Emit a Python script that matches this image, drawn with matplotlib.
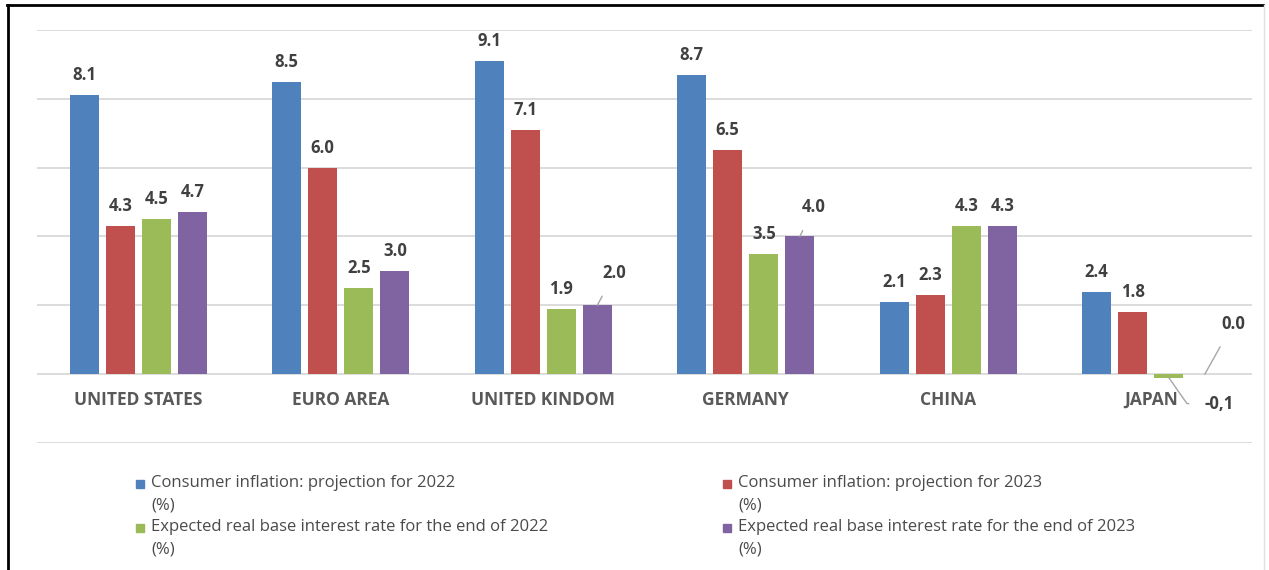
import matplotlib.pyplot as plt
from matplotlib.patches import Rectangle
from matplotlib.lines import Line2D
import numpy as np

#------------------------------#
# DATA
#------------------------------#

countries = ['UNITED STATES', 'EURO AREA', 'UNITED KINDOM', 'GERMANY', 'CHINA', 'JAPAN']
infl_2022 = [8.1, 8.5, 9.1, 8.7, 2.1, 2.4]
infl_2023 = [4.3, 6.0, 7.1, 6.5, 2.3, 1.8]
rate_2022 = [4.5, 2.5, 1.9, 3.5, 4.3, -0.1]
rate_2023 = [4.7, 3.0, 2.0, 4.0, 4.3, 0.0]

series_names = ['Consumer inflation: projection for 2022\n(%)',
                'Consumer inflation: projection for 2023\n(%)',
                'Expected real base interest rate for the end of 2022\n(%)',
                'Expected real base interest rate for the end of 2023\n(%)']
colors = ['#4F81BD', '#C0504D', '#9BBB59', '#8064A2']

#------------------------------#
# PLOT
#------------------------------#

plt.rcParams['font.family'] = ['Open Sans', 'DejaVu Sans']
TXT = '#404040'

fig = plt.figure(figsize=(12.69, 5.70), dpi=100)
ax = fig.add_axes([37/1269, 1-443/570, 1215/1269, 413/570])

x = np.arange(len(countries))
offsets = [-0.267, -0.089, 0.089, 0.267]
width = 0.143
all_series = [infl_2022, infl_2023, rate_2022, rate_2023]

for j, vals in enumerate(all_series):
    ax.bar(x + offsets[j], vals, width=width, color=colors[j], zorder=3)

# labels that are pushed aside with a leader line: (country, series) -> pixel offset
moved = {(2, 3): (17, 32), (3, 3): (14, 29), (5, 3): (28, 50), (5, 2): (50, -26)}

for j, vals in enumerate(all_series):
    for i, v in enumerate(vals):
        txt = '{:.1f}'.format(v)
        if v < 0:
            txt = txt.replace('.', ',')
        xb = x[i] + offsets[j]
        if (i, j) in moved:
            dx, dy = moved[(i, j)]
            cs = 'angle,angleA=0,angleB=-55,rad=0' if v < 0 else 'arc3'
            ax.annotate(txt, (xb, v), xytext=(dx, dy), textcoords='offset pixels',
                        ha='center', va='center', fontsize=12, fontweight='bold',
                        color=TXT, zorder=4,
                        arrowprops=dict(arrowstyle='-', color='#a6a6a6', lw=1,
                                        shrinkA=9, shrinkB=0, connectionstyle=cs))
        else:
            ax.annotate(txt, (xb, max(v, 0)), xytext=(0, 11), textcoords='offset pixels',
                        ha='center', va='bottom', fontsize=12, fontweight='bold',
                        color=TXT, zorder=4)

for i, c in enumerate(countries):
    ax.annotate(c, (x[i], 0), xytext=(0, -26), textcoords='offset pixels',
                ha='center', va='center', fontsize=12.5, fontweight='bold', color='#595959')

ax.set_xlim(-0.5, 5.5)
ax.set_ylim(-2, 10)
ax.set_yticks(range(-2, 11, 2))
ax.set_xticks([])
ax.tick_params(left=False, labelleft=False)
ax.yaxis.grid(True, color='#d9d9d9', lw=1.3, zorder=0)
for s in ax.spines.values():
    s.set_visible(False)

# legend, two columns, marker aligned to first line of each label
leg_pos = [(140, 484), (727, 484), (140, 528), (727, 528)]
for (px, py), name, col in zip(leg_pos, series_names, colors):
    fig.patches.append(Rectangle((px/1269 - 4/1269, 1 - py/570 - 4/570), 8/1269, 8/570,
                                 transform=fig.transFigure, color=col))
    fig.text((px + 11)/1269, 1 - (py - 9)/570, name, ha='left', va='top',
             fontsize=12, color='#4a4a4a', linespacing=1.5)

# screenshot frame
fig.lines.append(Line2D([7/1269, 1263/1269], [1 - 5/570, 1 - 5/570], transform=fig.transFigure,
                        color='black', lw=2))
fig.lines.append(Line2D([8/1269, 8/1269], [0, 1 - 5/570], transform=fig.transFigure,
                        color='black', lw=2))
fig.lines.append(Line2D([1264/1269, 1264/1269], [0, 1 - 5/570], transform=fig.transFigure,
                        color='#e0e0e0', lw=1))

fig.savefig('out.png', dpi=100)
